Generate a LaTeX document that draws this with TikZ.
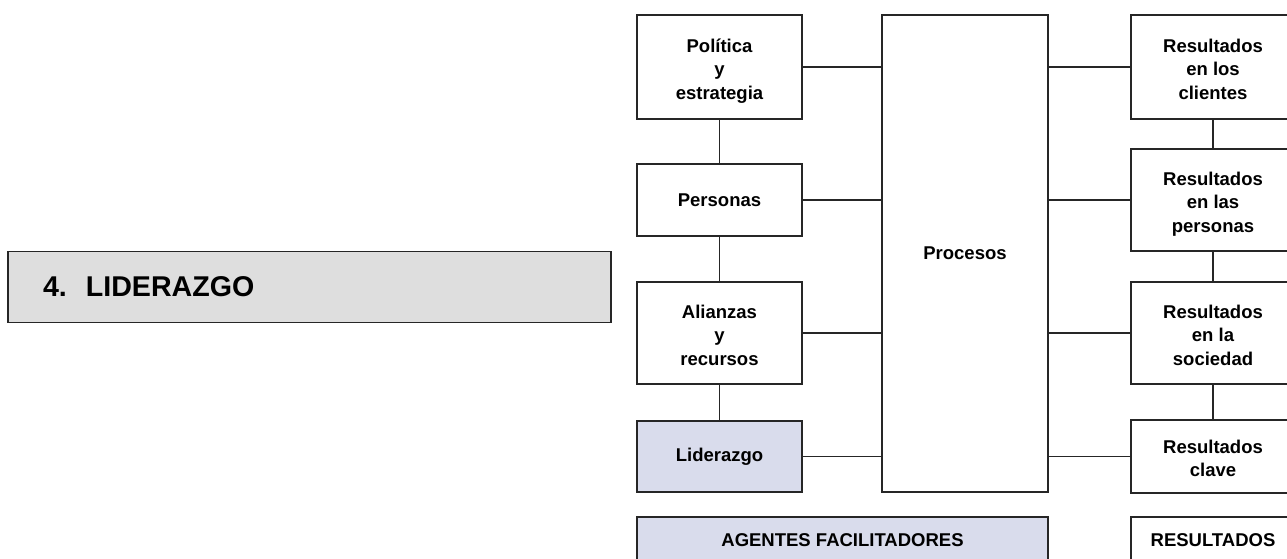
\documentclass[tikz,border=0pt]{standalone}
\usepackage{fontspec}
\setmainfont{Liberation Sans}
% struts that fix the first-line height and last-line depth of stacked labels
\newcommand\hiStrut{\rule{0pt}{22pt}}
\newcommand\loStrut{\rule[-5pt]{0pt}{5pt}}
\begin{document}
\definecolor{edgegray}{HTML}{262626}
\definecolor{lavender}{HTML}{D9DCEC}
\definecolor{panelgray}{HTML}{DEDEDE}
\begin{tikzpicture}[x=1pt,y=-1pt,
  box/.style={draw=edgegray, line width=1.5pt, fill=white, rectangle, inner sep=0pt,
    align=center, font=\fontsize{18.5}{23.5}\selectfont\bfseries},
  leftbox/.style={box, minimum width=165pt},
  rightbox/.style={box, minimum width=164pt},
  hilite/.style={fill=lavender},
  link/.style={draw=edgegray, line width=1.5pt}]
  \useasboundingbox (0,0) rectangle (1287,558);
  \clip (0,0) rectangle (1287,558);

  % section title panel
  \node[box, fill=panelgray, minimum width=603pt, minimum height=71pt,
        text width=533pt, align=left, font=\fontsize{28.6}{32}\selectfont\bfseries]
        (title) at (309.5,287) {4.\ \ LIDERAZGO};

  % enablers column
  \node[leftbox, minimum height=104pt] (pol) at (719.5,67) {\hiStrut Política\\y\\estrategia\loStrut};
  \node[leftbox, minimum height=72pt]  (per) at (719.5,200) {Personas};
  \node[leftbox, minimum height=102pt] (ali) at (719.5,333) {\hiStrut Alianzas\\y\\recursos\loStrut};
  \node[leftbox, hilite, minimum height=71pt] (lid) at (719.5,456.5) {Liderazgo};

  % processes
  \node[box, minimum width=166pt, minimum height=477pt] (proc) at (965,253.5) {Procesos};

  % results column
  \node[rightbox, minimum height=104pt] (rcli) at (1213,67) {\hiStrut Resultados\\en los\\clientes\loStrut};
  \node[rightbox, minimum height=102pt] (rper) at (1213,200) {\hiStrut Resultados\\en las\\personas\loStrut};
  \node[rightbox, minimum height=102pt] (rsoc) at (1213,333) {\hiStrut Resultados\\en la\\sociedad\loStrut};
  \node[rightbox, minimum height=73pt]  (rcla) at (1213,456.5) {\hiStrut Resultados\\clave\loStrut};

  % column headings
  \node[box, hilite, minimum width=411pt, minimum height=46pt] (agents) at (842.5,540) {AGENTES FACILITADORES};
  \node[rightbox, minimum height=46pt] (results) at (1213,540) {RESULTADOS};

  % vertical links
  \draw[link] (pol.south) -- (per.north);
  \draw[link] (per.south) -- (ali.north);
  \draw[link] (ali.south) -- (lid.north);
  \draw[link] (rcli.south) -- (rper.north);
  \draw[link] (rper.south) -- (rsoc.north);
  \draw[link] (rsoc.south) -- (rcla.north);

  % links into and out of the processes box
  \foreach \n in {pol,per,ali,lid}
    \draw[link] (\n.east) -- (\n.east -| proc.west);
  \foreach \n in {rcli,rper,rsoc,rcla}
    \draw[link] (\n.west -| proc.east) -- (\n.west);
\end{tikzpicture}
\end{document}
